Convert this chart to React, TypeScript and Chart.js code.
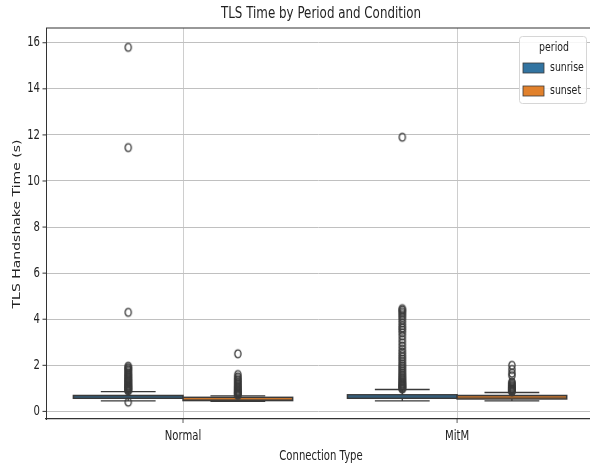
import React, { useEffect, useRef } from "react";
import { Chart, registerables } from "chart.js";
Chart.register(...registerables);

const categories = ["Normal", "MitM"];
const periods = ["sunrise", "sunset"];
const periodColors = ["#3274a1", "#e1812c"];
const yTicks = [0, 2, 4, 6, 8, 10, 12, 14, 16];

// box statistics per category (Normal, MitM)
const sunriseLow = [0.46, 0.46];
const sunriseQ1 = [0.57, 0.57];
const sunriseMedian = [0.63, 0.63];
const sunriseQ3 = [0.69, 0.72];
const sunriseHigh = [0.86, 0.95];

const sunsetLow = [0.44, 0.46];
const sunsetQ1 = [0.47, 0.54];
const sunsetMedian = [0.52, 0.61];
const sunsetQ3 = [0.61, 0.69];
const sunsetHigh = [0.67, 0.82];

// outliers
const normalSunriseOut = [15.8, 11.45, 4.3, 1.96, 1.9, 1.86, 1.8, 1.74, 1.68, 1.62, 1.57, 1.52, 1.47, 1.42, 1.38, 1.34, 1.3, 1.26, 1.22, 1.18, 1.14, 1.1, 1.07, 1.04, 1.01, 0.98, 0.95, 0.92, 0.89, 0.4];
const normalSunsetOut = [2.5, 1.6, 1.5, 1.43, 1.36, 1.3, 1.24, 1.18, 1.12, 1.07, 1.02, 0.97, 0.92, 0.88, 0.84, 0.8, 0.76, 0.73, 0.7];
const mitmSunriseOut = [11.9, 4.46, 4.4, 4.33, 4.25, 4.16, 4.07, 3.96, 3.84, 3.72, 3.62, 3.52, 3.41, 3.27, 3.12, 2.98, 2.84, 2.7, 2.58, 2.47, 2.37, 2.27, 2.17, 2.07, 1.98, 1.9, 1.82, 1.74, 1.66, 1.59, 1.52, 1.46, 1.4, 1.34, 1.29, 1.24, 1.19, 1.15, 1.11, 1.07, 1.03, 1.0, 0.97];
const mitmSunsetOut = [2.0, 1.82, 1.66, 1.55, 1.28, 1.22, 1.17, 1.12, 1.08, 1.04, 1.0, 0.97, 0.94, 0.91, 0.88, 0.85];

const LINE = "#3a3a3a";
const TEXT = "#222222";
const FONT = "DejaVu Sans";
const SX = 0.72;

function drawText(ctx: CanvasRenderingContext2D, text: string, x: number, y: number, size: number, align: CanvasTextAlign, rotate = false) {
  ctx.save();
  ctx.translate(x, y);
  if (rotate) {
    ctx.rotate(-Math.PI / 2);
    ctx.scale(1, SX);
  } else {
    ctx.scale(SX, 1);
  }
  ctx.font = `${size}px "${FONT}"`;
  ctx.fillStyle = TEXT;
  ctx.textAlign = align;
  ctx.textBaseline = "middle";
  ctx.fillText(text, 0, 0);
  ctx.restore();
}

export default function App() {
  const ref = useRef<HTMLCanvasElement | null>(null);

  useEffect(() => {
    if (!ref.current) return;

    const pc = document.createElement("canvas");
    pc.width = 10;
    pc.height = 12;
    const pctx = pc.getContext("2d")!;
    pctx.strokeStyle = LINE;
    pctx.lineWidth = 1.3;
    pctx.beginPath();
    pctx.ellipse(5, 6, 3.1, 3.9, 0, 0, Math.PI * 2);
    pctx.stroke();

    const offsets = [-0.2, 0.2];
    const outGroups = [
      [normalSunriseOut, mitmSunriseOut],
      [normalSunsetOut, mitmSunsetOut],
    ];
    const datasets: any[] = [];
    periods.forEach((p, pi) => {
      categories.forEach((c, ci) => {
        datasets.push({
          label: `${c} ${p}`,
          data: outGroups[pi][ci].map((v) => ({ x: ci + offsets[pi], y: v })),
          pointStyle: pc,
          pointRadius: 4,
          showLine: false,
        });
      });
    });

    const stats = [
      { low: sunriseLow, q1: sunriseQ1, med: sunriseMedian, q3: sunriseQ3, high: sunriseHigh },
      { low: sunsetLow, q1: sunsetQ1, med: sunsetMedian, q3: sunsetQ3, high: sunsetHigh },
    ];

    const boxPlugin = {
      id: "boxes",
      beforeDatasetsDraw(chart: any) {
        const ctx: CanvasRenderingContext2D = chart.ctx;
        const xs = chart.scales.x;
        const ys = chart.scales.y;
        ctx.save();
        stats.forEach((s, pi) => {
          categories.forEach((_c, ci) => {
            const cx = ci + offsets[pi];
            const xl = xs.getPixelForValue(cx - 0.2);
            const xr = xs.getPixelForValue(cx + 0.2);
            const xc = xs.getPixelForValue(cx);
            const cl = xs.getPixelForValue(cx - 0.1);
            const cr = xs.getPixelForValue(cx + 0.1);
            const yLow = ys.getPixelForValue(s.low[ci]);
            const yHigh = ys.getPixelForValue(s.high[ci]);
            const yQ1 = ys.getPixelForValue(s.q1[ci]);
            const yQ3 = ys.getPixelForValue(s.q3[ci]);
            const yMed = ys.getPixelForValue(s.med[ci]);
            ctx.strokeStyle = LINE;
            ctx.lineWidth = 1.3;
            ctx.beginPath();
            ctx.moveTo(xc, yQ1);
            ctx.lineTo(xc, yLow);
            ctx.moveTo(xc, yQ3);
            ctx.lineTo(xc, yHigh);
            ctx.moveTo(cl, yLow);
            ctx.lineTo(cr, yLow);
            ctx.moveTo(cl, yHigh);
            ctx.lineTo(cr, yHigh);
            ctx.stroke();
            ctx.fillStyle = periodColors[pi];
            ctx.fillRect(xl, yQ3, xr - xl, yQ1 - yQ3);
            ctx.lineWidth = 1.5;
            ctx.strokeRect(xl, yQ3, xr - xl, yQ1 - yQ3);
            ctx.beginPath();
            ctx.moveTo(xl, yMed);
            ctx.lineTo(xr, yMed);
            ctx.lineWidth = 0.6;
            ctx.stroke();
          });
        });
        ctx.restore();
      },
      afterDraw(chart: any) {
        const ctx: CanvasRenderingContext2D = chart.ctx;
        const xs = chart.scales.x;
        const ys = chart.scales.y;
        const a = chart.chartArea;
        ctx.save();
        // top spine
        ctx.strokeStyle = "#333333";
        ctx.lineWidth = 1.2;
        ctx.beginPath();
        ctx.moveTo(a.left, a.top);
        ctx.lineTo(a.right, a.top);
        ctx.stroke();
        // y ticks
        ctx.lineWidth = 1;
        yTicks.forEach((t) => {
          const y = ys.getPixelForValue(t);
          ctx.beginPath();
          ctx.moveTo(a.left - 3.5, y);
          ctx.lineTo(a.left, y);
          ctx.stroke();
          drawText(ctx, String(t), a.left - 6, y, 14, "right");
        });
        // x ticks
        ctx.lineWidth = 0.8;
        categories.forEach((c, i) => {
          const x = xs.getPixelForValue(i);
          ctx.beginPath();
          ctx.moveTo(x, a.bottom);
          ctx.lineTo(x, a.bottom + 4);
          ctx.stroke();
          drawText(ctx, c, x, a.bottom + 17, 14, "center");
        });
        // axis titles and chart title
        drawText(ctx, "Connection Type", 321, 456, 14, "center");
        drawText(ctx, "TLS Handshake Time (s)", 17, 224, 14, "center", true);
        drawText(ctx, "TLS Time by Period and Condition", 321, 14, 16.5, "center");
        // legend
        ctx.fillStyle = "rgba(255,255,255,0.85)";
        ctx.strokeStyle = "#d6d6d6";
        ctx.lineWidth = 1;
        ctx.beginPath();
        (ctx as any).roundRect(519.5, 36.5, 67, 67, 3);
        ctx.fill();
        ctx.stroke();
        drawText(ctx, "period", 554, 48, 13, "center");
        periods.forEach((p, i) => {
          const y = 63 + i * 23;
          ctx.fillStyle = periodColors[i];
          ctx.fillRect(523, y, 21, 10);
          ctx.strokeStyle = LINE;
          ctx.lineWidth = 0.8;
          ctx.strokeRect(523, y, 21, 10);
          drawText(ctx, p, 550, y + 5, 13, "left");
        });
        ctx.restore();
      },
    };

    const chart = new Chart(ref.current, {
      type: "scatter",
      data: { datasets },
      options: {
        responsive: false,
        devicePixelRatio: 1,
        animation: false,
        layout: { autoPadding: false, padding: { left: 46, top: 28, right: 0, bottom: 49 } },
        plugins: { legend: { display: false }, tooltip: { enabled: false }, title: { display: false } },
        scales: {
          x: {
            type: "linear",
            min: -0.5,
            max: 1.485,
            afterBuildTicks: (s: any) => {
              s.ticks = categories.map((_c, i) => ({ value: i }));
            },
            ticks: { display: false },
            grid: { color: "#c8c8c8", lineWidth: 0.9, drawTicks: false },
            border: { display: true, color: "#333333", width: 1.2 },
          },
          y: {
            type: "linear",
            min: -0.33,
            max: 16.64,
            afterBuildTicks: (s: any) => {
              s.ticks = yTicks.map((v) => ({ value: v }));
            },
            ticks: { display: false },
            grid: { color: "#c0c0c0", lineWidth: 1, drawTicks: false },
            border: { display: true, color: "#333333", width: 1 },
          },
        },
      },
      plugins: [boxPlugin],
    } as any);

    return () => chart.destroy();
  }, []);

  return (
    <div style={{ position: "fixed", left: 0, top: 0, width: 590, height: 468, overflow: "hidden", background: "#ffffff" }}>
      <canvas ref={ref} width={590} height={468} style={{ display: "block", width: 590, height: 468 }} />
    </div>
  );
}
